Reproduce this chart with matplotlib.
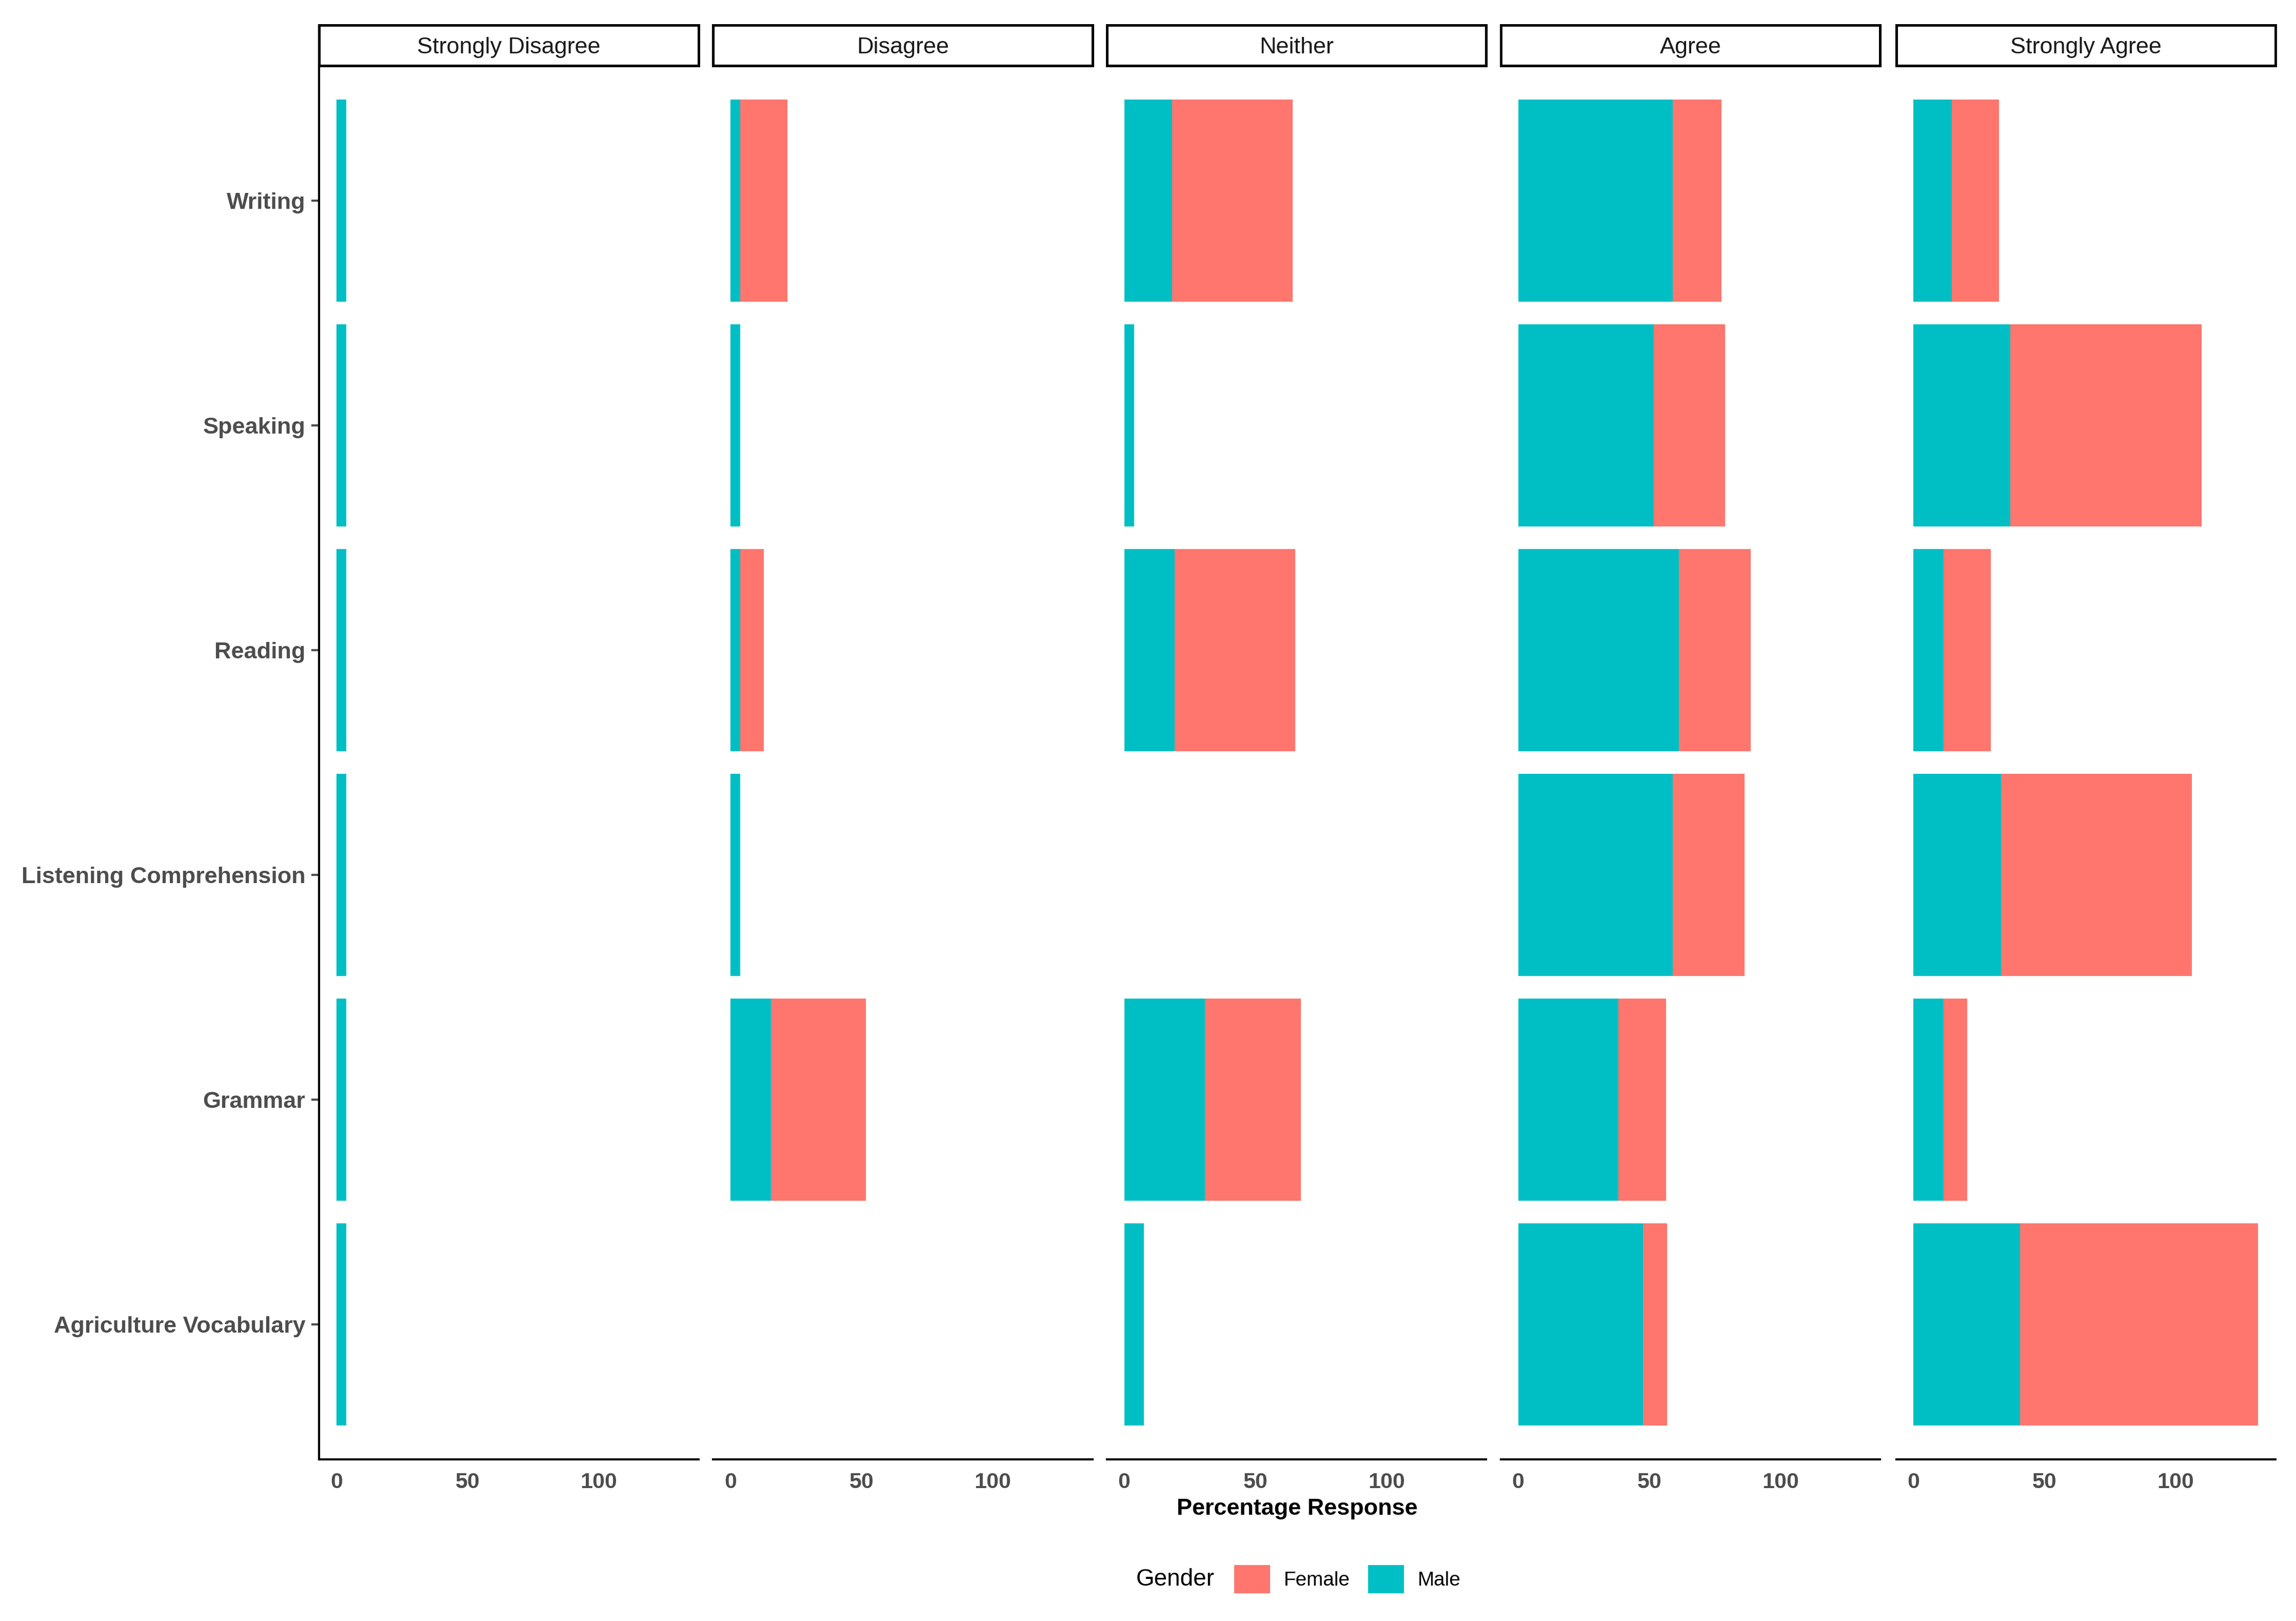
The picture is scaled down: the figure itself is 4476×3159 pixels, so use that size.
import matplotlib
matplotlib.use("Agg")
import matplotlib.pyplot as plt
from matplotlib.patches import Patch

plt.rcParams['font.family'] = ['Liberation Sans', 'DejaVu Sans']

# ---------------- data ----------------
skills = ["Agriculture Vocabulary", "Grammar", "Listening Comprehension",
          "Reading", "Speaking", "Writing"]          # bottom -> top
responses = ["Strongly Disagree", "Disagree", "Neither", "Agree", "Strongly Agree"]

# percentage response, by response level, in the order of `skills`
male = {
    "Strongly Disagree": [3.7, 3.7, 3.7, 3.7, 3.7, 3.7],
    "Disagree":          [0.0, 15.5, 3.7, 3.7, 3.7, 3.7],
    "Neither":           [7.4, 30.7, 0.0, 19.3, 3.7, 18.3],
    "Agree":             [47.7, 38.3, 58.9, 61.3, 51.7, 58.9],
    "Strongly Agree":    [40.7, 11.4, 33.3, 11.4, 37.0, 14.7],
}
female = {
    "Strongly Disagree": [0.0, 0.0, 0.0, 0.0, 0.0, 0.0],
    "Disagree":          [0.0, 36.1, 0.0, 9.0, 0.0, 18.0],
    "Neither":           [0.0, 36.7, 0.0, 45.9, 0.0, 45.9],
    "Agree":             [9.2, 18.1, 27.5, 27.5, 27.3, 18.7],
    "Strongly Agree":    [90.8, 9.1, 72.8, 18.1, 72.8, 18.0],
}
x_ticks = [0, 50, 100]

MALE_C = "#00BFC4"
FEMALE_C = "#FE766D"
GRAY = "#4D4D4D"

W, H = 1568.0, 1106.5
fig = plt.figure(figsize=(4476 / 300, 3159 / 300), dpi=300)

ypos = list(range(len(skills)))
max_total = max(m + f for r in responses for m, f in zip(male[r], female[r]))
xlo, xhi = -0.05 * max_total, 1.05 * max_total

panel_top = 45
panel_bot = 996
strip_top = 17
pw = 259
lefts = [218, 487, 756, 1025, 1295]

for i, resp in enumerate(responses):
    l = lefts[i]
    ax = fig.add_axes([l / W, 1 - panel_bot / H, pw / W, (panel_bot - panel_top) / H])
    ax.barh(ypos, male[resp], height=0.9, color=MALE_C, linewidth=0)
    ax.barh(ypos, female[resp], left=male[resp], height=0.9, color=FEMALE_C, linewidth=0)
    ax.set_xlim(xlo, xhi)
    ax.set_ylim(-0.6, len(skills) - 0.4)
    ax.set_xticks(x_ticks)
    ax.set_xticklabels([str(t) for t in x_ticks], fontsize=10.3, fontweight='bold', color=GRAY)
    ax.tick_params(axis='x', length=0, pad=6)
    for s in ['top', 'right']:
        ax.spines[s].set_visible(False)
    ax.spines['bottom'].set_linewidth(1.0)
    if i == 0:
        ax.set_yticks(ypos)
        ax.set_yticklabels(skills, fontsize=10.8, fontweight='bold', color=GRAY)
        ax.tick_params(axis='y', length=3.5, width=1.0, pad=3, color=GRAY)
        ax.spines['left'].set_linewidth(1.0)
    else:
        ax.set_yticks([])
        ax.spines['left'].set_visible(False)

    # strip
    sax = fig.add_axes([l / W, 1 - panel_top / H, pw / W, (panel_top - strip_top) / H])
    sax.set_xticks([]); sax.set_yticks([])
    for s in sax.spines.values():
        s.set_linewidth(1.2)
        s.set_color('black')
    sax.text(0.5, 0.45, resp, ha='center', va='center', fontsize=10.8, color='#1A1A1A',
             transform=sax.transAxes)

fig.text(886 / W, 1 - 1030 / H, "Percentage Response", ha='center', va='center',
         fontsize=10.8, fontweight='bold', color='black')

# legend
fig.text(776 / W, 1 - 1078 / H, "Gender", ha='left', va='center', fontsize=11, color='black')
handles = [Patch(facecolor=FEMALE_C, edgecolor='none'), Patch(facecolor=MALE_C, edgecolor='none')]
fig.legend(handles, ["Female", "Male"], ncol=2, loc='center left',
           bbox_to_anchor=(843 / W, 1 - 1078 / H), frameon=False, fontsize=9.3,
           handlelength=1.8, handleheight=1.8, handletextpad=0.7, columnspacing=0.9,
           borderpad=0, borderaxespad=0)

fig.savefig("out.png", dpi=300, facecolor='white')
